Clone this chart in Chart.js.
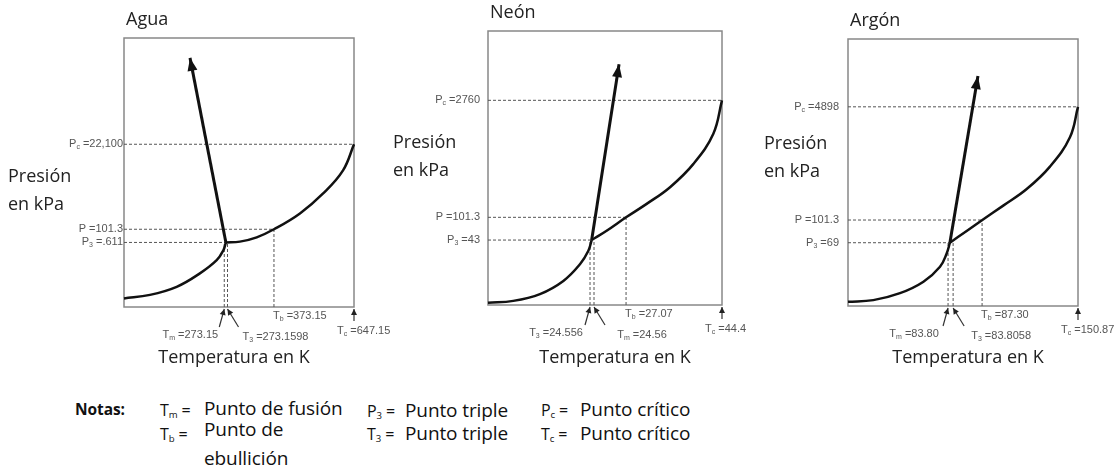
<!DOCTYPE html>
<html>
<head>
<meta charset="utf-8">
<script src="https://cdn.jsdelivr.net/npm/chart.js@4/dist/chart.umd.min.js"></script>
<style>
  body { margin: 0; background: #fff; width: 1120px; height: 472px; position: relative; overflow: hidden; font-family: "Open Sans", sans-serif; }
  canvas { position: absolute; top: 0; }
  .n { position: absolute; line-height: 22px; color: #111; font-size: 19px; white-space: nowrap; letter-spacing: -0.1px; }
  .n.k { font-size: 16px; }
  .n.b { font-weight: bold; font-size: 15.5px; }
  .n sub { font-size: 60%; vertical-align: -2px; }
</style>
</head>
<body>
<canvas id="agua" width="400" height="380" style="left:0px;width:400px;height:380px"></canvas>
<canvas id="neon" width="380" height="380" style="left:380px;width:380px;height:380px"></canvas>
<canvas id="argon" width="370" height="380" style="left:750px;width:370px;height:380px"></canvas>

<div class="n b" style="left:75px;top:398px">Notas:</div>
<div class="n k" style="left:160px;top:399px">T<sub>m</sub> =</div>
<div class="n" style="left:204px;top:397px">Punto de fusión</div>
<div class="n k" style="left:367px;top:400px">P<sub>3</sub> =</div>
<div class="n" style="left:405px;top:399px">Punto triple</div>
<div class="n k" style="left:541px;top:399px">P<sub>c</sub> =</div>
<div class="n" style="left:580px;top:398px">Punto crítico</div>
<div class="n k" style="left:160px;top:423px">T<sub>b</sub> =</div>
<div class="n" style="left:204px;top:418px">Punto de</div>
<div class="n k" style="left:367px;top:423px">T<sub>3</sub> =</div>
<div class="n" style="left:405px;top:422px">Punto triple</div>
<div class="n k" style="left:541px;top:423px">T<sub>c</sub> =</div>
<div class="n" style="left:580px;top:422px">Punto crítico</div>
<div class="n" style="left:204px;top:447px">ebullición</div>

<script>
// ===================== Data ===================
// Schematic diagram: both axes run 0..100 across the frame (not to scale)

// Agua
const aguaSolidX = [0, 11.3, 22.9, 33.0, 40.3, 43.2, 44.3];
const aguaSolidY = [3.2, 4.5, 7.5, 12.5, 17.4, 21.1, 24.0];
const aguaVaporX = [44.3, 50.4, 57.7, 65.2, 76.5, 86.7, 95.3, 100];
const aguaVaporY = [24.0, 24.3, 25.9, 28.9, 34.8, 42.3, 50.9, 60.5];
const aguaFusionTip = [28.7, 92.6];
const aguaPressures = [60.5, 28.9, 24.0];          // Pc, P, P3
const aguaPressureText = [['P', 'c', ' =22,100'], ['P', '', ' =101.3'], ['P', '3', ' =.611']];
const aguaTemps = [43.6, 45.0, 65.2, 100];         // Tm, T3, Tb, Tc
const aguaTempText = [['T', 'm', ' =273.15'], ['T', '3', ' =273.1598'], ['T', 'b', ' =373.15'], ['T', 'c', ' =647.15']];

// Neón
const neonSolidX = [0, 10.8, 22.2, 32.2, 39.3, 42.9, 44.3];
const neonSolidY = [0.8, 1.5, 4.0, 8.8, 14.9, 19.8, 23.7];
const neonVaporX = [44.3, 50.7, 59.0, 67.8, 77.8, 87.8, 96.3, 100];
const neonVaporY = [23.7, 27.1, 32.0, 36.9, 43.0, 51.5, 62.5, 74.7];
const neonFusionTip = [56.0, 87.9];
const neonPressures = [74.7, 32.0, 23.7];
const neonPressureText = [['P', 'c', ' =2760'], ['P', '', ' =101.3'], ['P', '3', ' =43']];
const neonTemps = [43.6, 45.3, 59.0, 100];         // T3, Tm, Tb, Tc
const neonTempText = [['T', '3', ' =24.556'], ['T', 'm', ' =24.56'], ['T', 'b', ' =27.07'], ['T', 'c', ' =44.4']];

// Argón
const argonSolidX = [0, 11.0, 22.6, 32.8, 40.0, 42.9, 44.3];
const argonSolidY = [1.6, 2.2, 4.8, 9.1, 14.7, 19.7, 23.7];
const argonVaporX = [44.3, 51.6, 58.4, 67.5, 77.7, 87.8, 96.5, 100];
const argonVaporY = [23.7, 28.1, 32.2, 37.6, 43.8, 52.2, 63.2, 74.6];
const argonFusionTip = [56.5, 86.1];
const argonPressures = [74.6, 32.2, 23.7];
const argonPressureText = [['P', 'c', ' =4898'], ['P', '', ' =101.3'], ['P', '3', ' =69']];
const argonTemps = [43.5, 45.7, 58.3, 100];        // Tm, T3, Tb, Tc
const argonTempText = [['T', 'm', ' =83.80'], ['T', '3', ' =83.8058'], ['T', 'b', ' =87.30'], ['T', 'c', ' =150.87']];

// ===================== Layout ===================

const panels = {
  agua: {
    title: 'Agua', pad: { left: 124, right: 46, top: 38, bottom: 73 },
    yTitle: [8, 177], xTitle: 234, yLabelGap: 1,
    solidX: aguaSolidX, solidY: aguaSolidY, vaporX: aguaVaporX, vaporY: aguaVaporY,
    tip: aguaFusionTip, pressures: aguaPressures, pressureText: aguaPressureText,
    temps: aguaTemps, tempText: aguaTempText
  },
  neon: {
    title: 'Neón', pad: { left: 108, right: 38, top: 31, bottom: 75 },
    yTitle: [13, 143], xTitle: 235, yLabelGap: 8,
    solidX: neonSolidX, solidY: neonSolidY, vaporX: neonVaporX, vaporY: neonVaporY,
    tip: neonFusionTip, pressures: neonPressures, pressureText: neonPressureText,
    temps: neonTemps, tempText: neonTempText
  },
  argon: {
    title: 'Argón', pad: { left: 98, right: 42, top: 39, bottom: 74 },
    yTitle: [14, 144], xTitle: 218, yLabelGap: 9,
    solidX: argonSolidX, solidY: argonSolidY, vaporX: argonVaporX, vaporY: argonVaporY,
    tip: argonFusionTip, pressures: argonPressures, pressureText: argonPressureText,
    temps: argonTemps, tempText: argonTempText
  }
};

// ===================== Drawing helpers ===================

function toPoints(xs, ys) {
  return xs.map((x, i) => ({ x: x, y: ys[i] }));
}

function subWidth(ctx, parts) {
  ctx.font = '11px "Liberation Sans"';
  let w = ctx.measureText(parts[0]).width + ctx.measureText(parts[2]).width;
  ctx.font = '7px "Liberation Sans"';
  return w + ctx.measureText(parts[1]).width;
}

// text with a subscript: parts = [main, sub, rest]
function drawSub(ctx, parts, x, y, align) {
  const w = subWidth(ctx, parts);
  let cx = align === 'right' ? x - w : align === 'center' ? x - w / 2 : x;
  ctx.fillStyle = '#555';
  ctx.textBaseline = 'middle';
  ctx.textAlign = 'left';
  ctx.font = '11px "Liberation Sans"';
  ctx.fillText(parts[0], cx, y);
  cx += ctx.measureText(parts[0]).width;
  ctx.font = '7px "Liberation Sans"';
  ctx.fillText(parts[1], cx, y + 3);
  cx += ctx.measureText(parts[1]).width;
  ctx.font = '11px "Liberation Sans"';
  ctx.fillText(parts[2], cx, y);
}

function arrowHead(ctx, x0, y0, x1, y1, len, half) {
  const ang = Math.atan2(y1 - y0, x1 - x0);
  ctx.beginPath();
  ctx.moveTo(x1, y1);
  ctx.lineTo(x1 - len * Math.cos(ang) + half * Math.sin(ang), y1 - len * Math.sin(ang) - half * Math.cos(ang));
  ctx.lineTo(x1 - len * Math.cos(ang) - half * Math.sin(ang), y1 - len * Math.sin(ang) + half * Math.cos(ang));
  ctx.closePath();
  ctx.fill();
}

function smallArrow(ctx, x0, y0, x1, y1) {
  ctx.strokeStyle = '#333';
  ctx.fillStyle = '#222';
  ctx.lineWidth = 1.2;
  ctx.beginPath();
  ctx.moveTo(x0, y0);
  ctx.lineTo(x1, y1);
  ctx.stroke();
  arrowHead(ctx, x0, y0, x1, y1, 6, 3);
}

const decorPlugin = {
  id: 'decor',
  beforeDatasetsDraw(chart) {
    const a = chart.chartArea;
    const ctx = chart.ctx;
    ctx.save();
    ctx.strokeStyle = '#888';
    ctx.lineWidth = 1.5;
    ctx.strokeRect(a.left, a.top, a.right - a.left, a.bottom - a.top);
    ctx.restore();
  },
  afterDraw(chart) {
    const p = panels[chart.canvas.id];
    const { ctx, chartArea: a, scales: { x, y } } = chart;
    ctx.save();

    // arrowhead of the fusion line
    const last = p.solidX.length - 1;
    ctx.fillStyle = '#111';
    arrowHead(ctx, x.getPixelForValue(p.solidX[last]), y.getPixelForValue(p.solidY[last]),
      x.getPixelForValue(p.tip[0]), y.getPixelForValue(p.tip[1]), 13, 5);

    // pressure labels on the left
    p.pressures.forEach((v, i) => {
      drawSub(ctx, p.pressureText[i], a.left - p.yLabelGap, y.getPixelForValue(v), 'right');
    });

    // temperature labels and arrows under the frame
    const b = a.bottom;
    const t0 = x.getPixelForValue(p.temps[0]);
    const t1 = x.getPixelForValue(p.temps[1]);
    const tb = x.getPixelForValue(p.temps[2]);
    const tc = x.getPixelForValue(p.temps[3]);
    smallArrow(ctx, t0 - 5, b + 20, t0, b + 2);
    smallArrow(ctx, t1 + 11, b + 20, t1, b + 2);
    smallArrow(ctx, tc, b + 14, tc, b + 2);
    drawSub(ctx, p.tempText[0], t0 - 34, b + 28, 'center');
    drawSub(ctx, p.tempText[1], t1 + 48, b + 30, 'center');
    drawSub(ctx, p.tempText[2], tb - 1, b + 9, 'left');
    drawSub(ctx, p.tempText[3], tc - 17, b + 24, 'left');

    // titles
    ctx.fillStyle = '#222';
    ctx.textBaseline = 'middle';
    ctx.font = '18px "Open Sans"';
    ctx.textAlign = 'left';
    ctx.fillText(p.title, a.left + 2, a.top - 18);
    ctx.fillText('Presión', p.yTitle[0], p.yTitle[1]);
    ctx.fillText('en kPa', p.yTitle[0], p.yTitle[1] + 28);
    ctx.textAlign = 'center';
    ctx.fillText('Temperatura en K', p.xTitle, 358);
    ctx.restore();
  }
};

// ===================== Charts ===================

function dashed(points) {
  return { data: points, showLine: true, borderColor: '#555', borderWidth: 1, borderDash: [3, 2], pointRadius: 0, order: 2, clip: false };
}

function buildPanel(id) {
  const p = panels[id];
  const last = p.solidX.length - 1;
  const tx = p.solidX[last];
  const ty = p.solidY[last];
  const curve = { showLine: true, borderColor: '#111', borderWidth: 2.5, pointRadius: 0, tension: 0.4, order: 0, clip: false };

  const datasets = [
    { ...curve, data: toPoints(p.solidX, p.solidY) },
    { ...curve, data: toPoints(p.vaporX, p.vaporY) },
    { ...curve, borderWidth: 3, tension: 0, data: [{ x: tx, y: ty }, { x: p.tip[0], y: p.tip[1] }] },
    dashed([{ x: 0, y: p.pressures[0] }, { x: 100, y: p.pressures[0] }]),
    dashed([{ x: 0, y: p.pressures[1] }, { x: p.temps[2], y: p.pressures[1] }]),
    dashed([{ x: 0, y: p.pressures[2] }, { x: tx, y: p.pressures[2] }]),
    dashed([{ x: p.temps[0], y: 0 }, { x: p.temps[0], y: ty }]),
    dashed([{ x: p.temps[1], y: 0 }, { x: p.temps[1], y: ty }]),
    dashed([{ x: p.temps[2], y: 0 }, { x: p.temps[2], y: p.pressures[1] }])
  ];

  new Chart(document.getElementById(id), {
    type: 'scatter',
    data: { datasets: datasets },
    options: {
      responsive: false,
      animation: false,
      devicePixelRatio: 1,
      layout: { padding: p.pad },
      plugins: { legend: { display: false }, tooltip: { enabled: false } },
      scales: {
        x: { type: 'linear', min: 0, max: 100, display: false },
        y: { type: 'linear', min: 0, max: 100, display: false }
      }
    },
    plugins: [decorPlugin]
  });
}

document.addEventListener('DOMContentLoaded', () => {
  ['agua', 'neon', 'argon'].forEach(buildPanel);
});
</script>
</body>
</html>
